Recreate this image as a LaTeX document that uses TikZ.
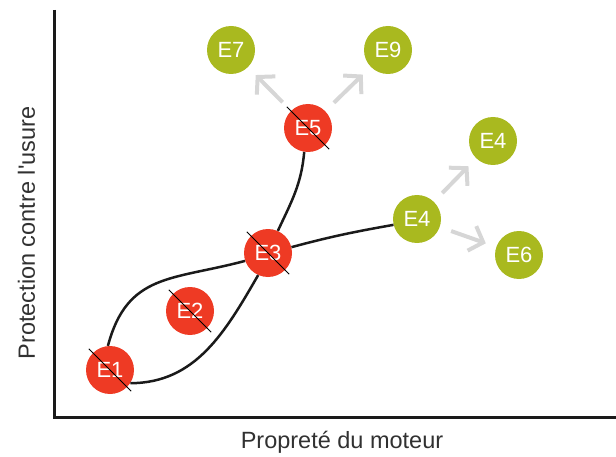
\documentclass[tikz,border=0pt]{standalone}
\usepackage{fontspec}
\setmainfont{Liberation Sans}
\definecolor{wearRed}{HTML}{EE3A24}
\definecolor{cleanGreen}{HTML}{A9B91F}
\definecolor{hintGrey}{HTML}{D6D6D6}
\definecolor{inkBlack}{HTML}{1A1A1A}
\usetikzlibrary{arrows.meta, positioning, calc}

\begin{document}
\begin{tikzpicture}[x=1pt, y=1pt,
  state/.style={circle, minimum size=48pt, inner sep=0pt, text=white, font=\fontsize{22}{26}\selectfont},
  bad/.style={state, fill=wearRed},
  good/.style={state, fill=cleanGreen},
  link/.style={draw=inkBlack, line width=2.5pt},
  strike/.style={draw=black, line width=0.9pt},
  hint/.style={draw=hintGrey, line width=4pt, -{Straight Barb[length=12pt, width=26pt]}, shorten <=12pt, shorten >=11pt},
  axis/.style={draw=inkBlack, line width=3pt, line join=miter},
  axislabel/.style={font=\fontsize{23.5}{28}\selectfont, text=inkBlack!90, inner sep=0pt},
]
  \useasboundingbox (0,0) rectangle (616,456);

  % axes
  \draw[axis] (54,446) -- (54,39) -- (616,39);
  \node[axislabel, rotate=90, anchor=base] (ylab) at (35,223) {Protection contre l\textquotesingle usure};
  \node[axislabel, anchor=base] (xlab) at (342,8) {Propreté du moteur};

  % states
  \node[bad] (E1) at (110,86) {E1};
  \node[bad] (E2) at (190,145) {E2};
  \node[bad] (E3) at (268,203) {E3};
  \node[bad] (E5) at (308,328) {E5};
  \node[good] (E4a) at (417,237) {E4};
  \node[good] (E7) at (231,406) {E7};
  \node[good] (E9) at (388,406) {E9};
  \node[good] (E4b) at (493,315) {E4};
  \node[good] (E6) at (519,201) {E6};

  % paths between states
  \draw[link] (E1.95) to[out=75, in=195, looseness=1.2] (E3.199);
  \draw[link] (E1.-33) to[out=0, in=-120] (E3.-114);
  \draw[link] (E3.66) to[out=65, in=-95] (E5.-99);
  \draw[link] (E3.14) to[out=15, in=190] (E4a.194);

  % crossed-out states
  \foreach \n in {E1,E2,E3,E5}
    \draw[strike] ($(\n.north west)!-0.12!(\n.south east)$) -- ($(\n.south east)!-0.12!(\n.north west)$);

  % possible next states
  \draw[hint] (E5) -- (E7);
  \draw[hint] (E5) -- (E9);
  \draw[hint] (E4a) -- (E4b);
  \draw[hint] (E4a) -- (E6);
\end{tikzpicture}
\end{document}
